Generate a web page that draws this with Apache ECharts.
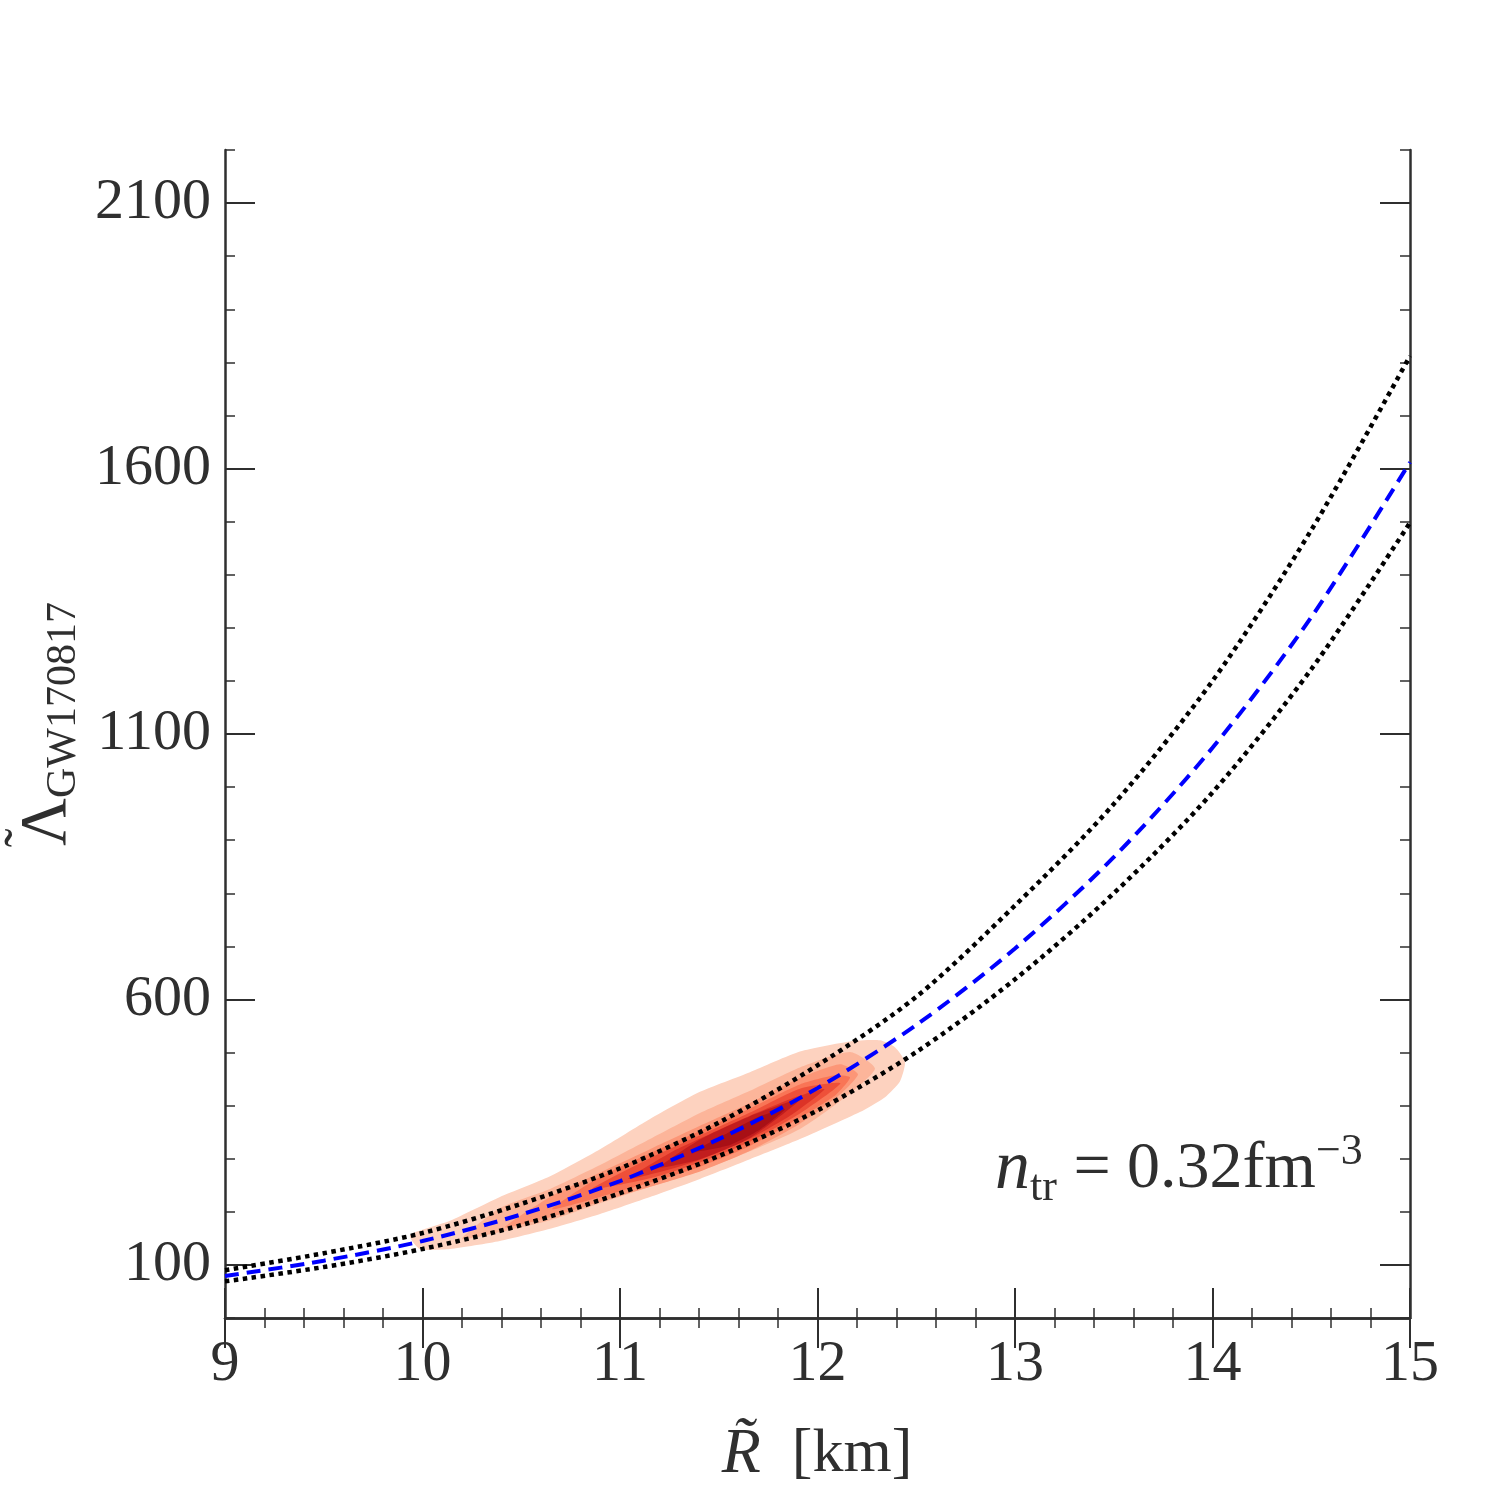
<!DOCTYPE html>
<html>
<head>
<meta charset="utf-8">
<script src="https://cdn.jsdelivr.net/npm/echarts@6/dist/echarts.min.js"></script>
<style>html,body{margin:0;padding:0;background:#fff}#c{width:1500px;height:1500px}</style>
</head>
<body>
<div id="c"></div>
<script>
// ---- data ----
const radiusKm = [9, 9.5, 10, 10.5, 11, 11.5, 12, 12.5, 13, 13.5, 14, 14.5, 15];
const lambdaFit   = [79, 108, 145, 195, 258, 337, 433, 552, 696, 868, 1074, 1320, 1612];
const lambdaUpper = [90, 122, 160, 215, 282, 368, 476, 605, 777, 968, 1200, 1484, 1812];
const lambdaLower = [69, 96, 130, 175, 235, 305, 391, 501, 638, 800, 990, 1222, 1498];
const xTicks = [9, 10, 11, 12, 13, 14, 15];
const yTicks = [100, 600, 1100, 1600, 2100];

// density contour levels (outer -> inner), [R, Lambda]
const contour1 = [[9.937,156],[10.139,183],[10.392,228],[10.646,267],[10.899,318],[11.152,375],[11.405,426],[11.658,463],[11.911,502],[12.165,521],[12.316,523],[12.392,510],[12.443,482],[12.418,446],[12.342,416],[12.215,388],[11.911,337],[11.658,299],[11.405,262],[11.152,228],[10.899,196],[10.646,168],[10.392,145],[10.139,130],[9.987,130]];
const contour2 = [[10.2,149],[10.392,207],[10.646,243],[10.899,288],[11.152,337],[11.405,386],[11.658,428],[11.911,472],[12.165,501],[12.291,470],[12.165,423],[11.911,356],[11.658,314],[11.405,277],[11.152,247],[10.899,216],[10.646,184],[10.392,162]];
const contour3 = [[10.418,171],[10.646,228],[10.899,274],[11.152,318],[11.405,362],[11.658,405],[11.911,452],[12.114,478],[12.205,459],[12.114,421],[11.911,366],[11.658,315],[11.405,276],[11.152,247],[10.899,219],[10.646,190]];
const contour4 = [[10.656,205],[10.899,266],[11.152,310],[11.405,352],[11.658,395],[11.911,440],[12.089,457],[12.165,453],[12.089,419],[11.911,377],[11.658,324],[11.405,285],[11.152,255],[10.899,228]];
const contour5 = [[10.858,243],[11.152,301],[11.405,344],[11.658,387],[11.911,432],[12.116,442],[11.911,385],[11.658,332],[11.405,293],[11.152,263]];
const contour6 = [[11.041,262],[11.253,311],[11.405,338],[11.658,381],[11.873,414],[12.035,431],[11.873,384],[11.658,338],[11.405,298],[11.253,280]];
const contour7 = [[11.203,284],[11.405,336],[11.658,380],[11.911,412],[11.658,339],[11.405,299]];
const contour8 = [[11.38,314],[11.557,351],[11.709,380],[11.835,393],[11.709,355],[11.557,326]];
const contours = [contour1, contour2, contour3, contour4, contour5, contour6, contour7, contour8];
const contourColors = ['#fdd2bf', '#fcb59a', '#fc9677', '#f97556', '#ee5039', '#dc3327', '#c21d1e', '#a81016'];

const FONT = '"Liberation Serif", "DejaVu Serif", serif';
const INK = '#2f2f2f';

const chart = echarts.init(document.getElementById('c'), null, {renderer: 'canvas'});

function xAx(pos, labels) {
  return {
    type: 'value', position: pos, min: 9, max: 15, interval: 1,
    axisLine: {show: true, lineStyle: {color: INK, width: 2.5}},
    axisTick: {show: true, inside: true, length: 30, lineStyle: {color: INK, width: 2}},
    minorTick: {show: true, splitNumber: 5, length: 10, lineStyle: {color: INK, width: 1.5}},
    axisLabel: {show: labels, fontSize: 58, fontFamily: FONT, color: INK, margin: 18, formatter: v => String(v)},
    splitLine: {show: false}, minorSplitLine: {show: false}
  };
}
function yMajor(pos, labels) {
  return {
    type: 'value', position: pos, min: 0, max: 2200, interval: 100,
    axisLine: {show: true, lineStyle: {color: INK, width: 2.5}},
    axisTick: {show: true, inside: true, length: 30, customValues: yTicks, lineStyle: {color: INK, width: 2}},
    axisLabel: {show: labels, customValues: yTicks, fontSize: 58, fontFamily: FONT, color: INK, margin: 14, formatter: v => String(v)},
    splitLine: {show: false}
  };
}
function yMinor(pos) {
  return {
    type: 'value', position: pos, min: 0, max: 2200, interval: 100,
    axisLine: {show: false},
    axisTick: {show: true, inside: true, length: 10, lineStyle: {color: INK, width: 1.5}},
    axisLabel: {show: false},
    splitLine: {show: false}
  };
}

const option = {
  backgroundColor: '#ffffff',
  animation: false,
  grid: {left: 225, right: 90, top: 150, bottom: 182, containLabel: false},
  xAxis: [xAx('bottom', true), xAx('top', false)],
  yAxis: [yMajor('left', true), yMinor('left'), yMajor('right', false), yMinor('right')],
  series: [
    {
      type: 'custom',
      xAxisIndex: 0, yAxisIndex: 0,
      clip: true,
      z: 1,
      data: contours.map((c, i) => [c[0][0], c[0][1], i]),
      renderItem: function (params, api) {
        const i = params.dataIndex;
        const pts = contours[i].map(p => api.coord(p));
        return {type: 'polygon', shape: {points: pts, smooth: 0.2}, style: {fill: contourColors[i], stroke: null}};
      }
    },
    {
      type: 'line', name: 'upper', xAxisIndex: 0, yAxisIndex: 0, z: 3,
      data: radiusKm.map((r, i) => [r, lambdaUpper[i]]),
      smooth: 0.3, showSymbol: false,
      lineStyle: {color: '#000000', width: 4.5, type: [4.5, 4.5], cap: 'butt'}
    },
    {
      type: 'line', name: 'lower', xAxisIndex: 0, yAxisIndex: 0, z: 3,
      data: radiusKm.map((r, i) => [r, lambdaLower[i]]),
      smooth: 0.3, showSymbol: false,
      lineStyle: {color: '#000000', width: 4.5, type: [4.5, 4.5], cap: 'butt'}
    },
    {
      type: 'line', name: 'fit', xAxisIndex: 0, yAxisIndex: 0, z: 4,
      data: radiusKm.map((r, i) => [r, lambdaFit[i]]),
      smooth: 0.3, showSymbol: false,
      lineStyle: {color: '#0000ff', width: 4, type: [14, 8], cap: 'butt'}
    }
  ],
  graphic: [
    {
      type: 'text', x: 817, y: 1455, z: 10,
      style: {
        text: '{i|R\u0303}{m|  [km]}',
        align: 'center', verticalAlign: 'middle',
        rich: {
          i: {fontSize: 64, fontFamily: FONT, fontStyle: 'italic', fill: INK},
          m: {fontSize: 62, fontFamily: FONT, fill: INK}
        }
      }
    },
    {
      type: 'text', x: 48, y: 724, rotation: Math.PI / 2, z: 10,
      style: {
        text: '{L|\u039B}{s|GW170817}',
        align: 'center', verticalAlign: 'middle',
        rich: {
          L: {fontSize: 66, fontFamily: FONT, fill: INK, lineHeight: 74},
          s: {fontSize: 42, fontFamily: FONT, fill: INK, lineHeight: 42, verticalAlign: 'bottom'}
        }
      }
    },
    {
      type: 'text', x: 28, y: 838, rotation: Math.PI / 2, z: 10,
      style: {text: '\u02DC', align: 'center', verticalAlign: 'middle', fontSize: 56, fontFamily: FONT, fill: INK}
    },
    {
      type: 'text', x: 995, y: 1170, z: 10,
      style: {
        text: '{n|n}{s|tr}{m| = 0.32fm}{p|\u22123}',
        verticalAlign: 'middle',
        rich: {
          n: {fontSize: 70, fontFamily: FONT, fontStyle: 'italic', fill: INK, lineHeight: 80},
          s: {fontSize: 44, fontFamily: FONT, fill: INK, lineHeight: 44, verticalAlign: 'bottom'},
          m: {fontSize: 66, fontFamily: FONT, fill: INK, lineHeight: 80},
          p: {fontSize: 44, fontFamily: FONT, fill: INK, lineHeight: 44, verticalAlign: 'top'}
        }
      }
    }
  ]
};
chart.setOption(option);
</script>
</body>
</html>
